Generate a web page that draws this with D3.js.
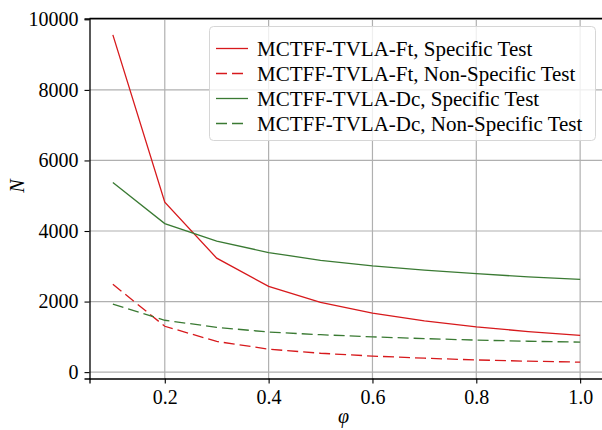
<!DOCTYPE html>
<html>
<head>
<meta charset="utf-8">
<script src="https://cdn.jsdelivr.net/npm/d3@7"></script>
<style>
  body { margin: 0; background: #fff; }
  text { font-family: "Liberation Serif", "Times New Roman", serif; }
</style>
</head>
<body>
<div id="graph"></div>
<script>
var phi = [0.1, 0.2, 0.3, 0.4, 0.5, 0.6, 0.7, 0.8, 0.9, 1.0];
var ftSpecific = [9560, 4820, 3230, 2430, 1980, 1670, 1450, 1280, 1150, 1040];
var ftNonSpecific = [2490, 1300, 870, 650, 535, 455, 395, 345, 310, 283];
var dcSpecific = [5375, 4210, 3710, 3390, 3170, 3010, 2890, 2790, 2700, 2630];
var dcNonSpecific = [1925, 1470, 1270, 1135, 1060, 1000, 950, 908, 875, 850];
var xTicks = [0.2, 0.4, 0.6, 0.8, 1.0];
var yTicks = [0, 2000, 4000, 6000, 8000, 10000];

var series = [
    {name: 'MCTFF-TVLA-Ft, Specific Test', values: ftSpecific, color: '#d7191c', dash: null},
    {name: 'MCTFF-TVLA-Ft, Non-Specific Test', values: ftNonSpecific, color: '#d7191c', dash: '11,5'},
    {name: 'MCTFF-TVLA-Dc, Specific Test', values: dcSpecific, color: '#3a7a33', dash: null},
    {name: 'MCTFF-TVLA-Dc, Non-Specific Test', values: dcNonSpecific, color: '#3a7a33', dash: '11,5'}
];

var width = 602,
    height = 430;
var mLeft = 89.5,
    mRight = 603.5,
    mTop = 18.5,
    mBottom = 378.5;

var svg = d3.select('#graph')
    .append('svg')
        .attr('width', width)
        .attr('height', height);

// matplotlib style 5% padding
var xExt = d3.extent(phi);
var xPad = (xExt[1] - xExt[0]) * 0.05;
var allY = [].concat(ftSpecific, ftNonSpecific, dcSpecific, dcNonSpecific);
var yExt = d3.extent(allY);
var yPad = (yExt[1] - yExt[0]) * 0.05;

var x = d3.scaleLinear()
    .domain([xExt[0] - xPad, xExt[1] + xPad])
    .range([mLeft, mRight]);
var y = d3.scaleLinear()
    .domain([yExt[0] - yPad, yExt[1] + yPad])
    .range([mBottom, mTop]);

// grid
var grid = svg.append('g');
grid.selectAll('.gx')
    .data(xTicks)
    .enter().append('line')
        .attr('x1', function(d) { return x(d); })
        .attr('x2', function(d) { return x(d); })
        .attr('y1', mTop)
        .attr('y2', mBottom)
        .attr('stroke', '#b0b0b0')
        .attr('stroke-width', 1.2);
grid.selectAll('.gy')
    .data(yTicks)
    .enter().append('line')
        .attr('x1', mLeft)
        .attr('x2', mRight)
        .attr('y1', function(d) { return y(d); })
        .attr('y2', function(d) { return y(d); })
        .attr('stroke', '#b0b0b0')
        .attr('stroke-width', 1.2);

// lines
var line = d3.line()
    .x(function(d, i) { return x(phi[i]); })
    .y(function(d) { return y(d); });

series.forEach(function(s) {
    svg.append('path')
        .attr('d', line(s.values))
        .attr('fill', 'none')
        .attr('stroke', s.color)
        .attr('stroke-width', 1.3)
        .attr('stroke-dasharray', s.dash);
});

// axes
var xAxis = svg.append('g')
    .attr('transform', 'translate(0,' + mBottom + ')')
    .call(d3.axisBottom(x).tickValues(xTicks).tickFormat(d3.format('.1f')).tickSizeOuter(0).tickSize(5).tickPadding(6));
var yAxis = svg.append('g')
    .attr('transform', 'translate(' + mLeft + ',0)')
    .call(d3.axisLeft(y).tickValues(yTicks).tickFormat(d3.format('d')).tickSizeOuter(0).tickSize(5).tickPadding(6));

[xAxis, yAxis].forEach(function(a) {
    a.select('.domain').attr('stroke', '#000').attr('stroke-width', 1.3);
    a.selectAll('.tick line').attr('stroke', '#000').attr('stroke-width', 1.1);
    a.selectAll('.tick text')
        .attr('font-size', 20)
        .attr('fill', '#000')
        .style('font-family', '"Liberation Serif", serif');
});

// top spine
svg.append('line')
    .attr('x1', mLeft).attr('x2', mRight)
    .attr('y1', mTop).attr('y2', mTop)
    .attr('stroke', '#000').attr('stroke-width', 1.3);

// axis labels
svg.append('text')
    .attr('x', (mLeft + mRight) / 2 - 3)
    .attr('y', 423)
    .attr('text-anchor', 'middle')
    .attr('font-size', 20)
    .attr('font-style', 'italic')
    .text('φ');
svg.append('text')
    .attr('transform', 'translate(24,186) rotate(-90)')
    .attr('text-anchor', 'middle')
    .attr('font-size', 20)
    .attr('font-style', 'italic')
    .text('N');

// legend
var legend = svg.append('g');
legend.append('rect')
    .attr('x', 209.5)
    .attr('y', 26.5)
    .attr('width', 386)
    .attr('height', 114)
    .attr('rx', 4)
    .attr('fill', 'rgba(255,255,255,0.8)')
    .attr('stroke', '#d6d6d6')
    .attr('stroke-width', 1);

series.forEach(function(s, i) {
    var ly = 48.5 + i * 25;
    legend.append('line')
        .attr('x1', 216).attr('x2', 248)
        .attr('y1', ly).attr('y2', ly)
        .attr('stroke', s.color)
        .attr('stroke-width', 1.3)
        .attr('stroke-dasharray', s.dash);
    legend.append('text')
        .attr('x', 257)
        .attr('y', ly + 7)
        .attr('font-size', 21)
        .attr('fill', '#000')
        .text(s.name);
});
</script>
</body>
</html>
